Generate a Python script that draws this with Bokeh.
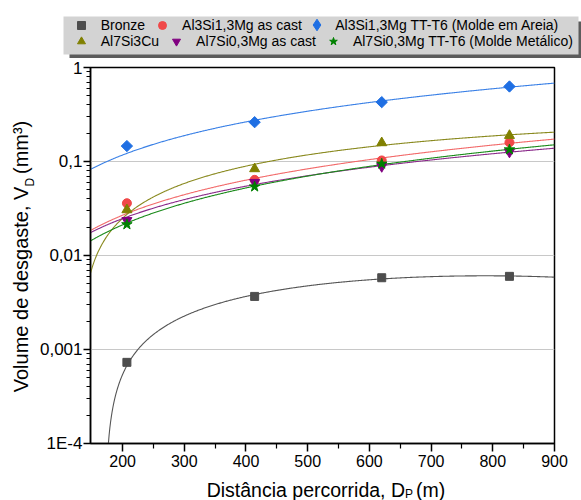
import numpy as np
from bokeh.plotting import figure
from bokeh.layouts import column, row
from bokeh.models import FixedTicker, Legend, LegendItem, Label, BoxAnnotation, Range1d
from bokeh.embed import file_html
from bokeh.resources import INLINE

# ---------------- data ----------------
distance = [207, 414, 620, 827]
series_names = [
    "Bronze",
    "Al3Si1,3Mg as cast",
    "Al3Si1,3Mg TT-T6 (Molde em Areia)",
    "Al7Si3Cu",
    "Al7Si0,3Mg as cast",
    "Al7Si0,3Mg TT-T6 (Molde Metálico)",
]
bronze = [0.00073, 0.00367, 0.0058, 0.0060]
al3si_cast = [0.036, 0.0638, 0.1026, 0.160]
al3si_t6 = [0.146, 0.262, 0.428, 0.628]
al7si3cu = [0.0306, 0.0836, 0.158, 0.189]
al7si_cast = [0.0236, 0.060, 0.0885, 0.126]
al7si_t6 = [0.0214, 0.054, 0.0945, 0.134]
series_values = [bronze, al3si_cast, al3si_t6, al7si3cu, al7si_cast, al7si_t6]
fit_models = ["poly2", "power", "power", "poly2", "power", "power"]

x_ticks = [200, 300, 400, 500, 600, 700, 800, 900]
x_minor = [250, 350, 450, 550, 650, 750, 850]
y_ticks = [1e-4, 1e-3, 1e-2, 1e-1, 1]
y_tick_labels = ["1E-4", "0,001", "0,01", "0,1", "1"]
x_title = ["Distância percorrida, D", "P", "(m)"]
y_title = ["Volume de desgaste, V", "D", "(mm³)"]

# ---------------- styles ----------------
marker_colors = ["#4d4d4d", "#f04848", "#1f6fe3", "#808000", "#800080", "#008000"]
line_colors = ["#555555", "#f26a6a", "#3a80e6", "#8a8a20", "#8a2a8a", "#1a8a1a"]
markers = ["square", "circle", "square", "triangle", "inverted_triangle", "star"]
legend_markers = ["square", "circle", "diamond", "triangle", "inverted_triangle", "star"]
angles = [0, 0, np.pi / 4, 0, 0, 0]
sizes = [8, 9, 8, 10, 10, 11]
FONT = "Liberation Sans"
W, H = 581, 500
TOP_H, XT_H, YT_W = 58, 22, 36
MAIN_H = H - TOP_H - XT_H


def fit_curve(x, y, model, xs):
    x = np.asarray(x, float)
    y = np.asarray(y, float)
    if model == "poly2":
        return np.polyval(np.polyfit(x, y, 2), xs)
    best = None
    for b in np.linspace(0.3, 3.0, 2701):
        xb = x ** b
        a = (y * xb).sum() / (xb * xb).sum()
        sse = ((y - a * xb) ** 2).sum()
        if best is None or sse < best[0]:
            best = (sse, a, b)
    return best[1] * xs ** best[2]


def blank(width, height, yr):
    f = figure(width=width, height=height, x_range=Range1d(0, width), y_range=yr,
               x_axis_location=None, y_axis_location=None,
               output_backend="svg", toolbar_location=None,
               min_border=0, min_border_left=0, min_border_right=0,
               min_border_top=0, min_border_bottom=0)
    f.outline_line_color = None
    f.background_fill_color = "white"
    f.border_fill_color = "white"
    f.grid.visible = False
    return f


def text(fig, x, y, s, size, align="left", angle=0.0):
    fig.add_layout(Label(x=x, y=y, text=s, text_align=align, text_baseline="middle",
                         angle=angle, text_font=FONT, text_font_size=size,
                         text_color="black"))


# ---------------- main chart ----------------
p = figure(
    width=W - YT_W, height=MAIN_H,
    x_range=Range1d(148, 900), y_range=Range1d(1e-4, 1),
    y_axis_type="log",
    output_backend="svg", toolbar_location=None,
    min_border_left=90 - YT_W, min_border_right=27, min_border_top=67 - TOP_H,
    min_border_bottom=MAIN_H - (443 - TOP_H),
)
p.background_fill_color = "white"
p.border_fill_color = "white"
p.outline_line_color = "black"
p.outline_line_width = 1.5
p.xgrid.visible = False
p.ygrid.grid_line_color = "#c8c8c8"
p.ygrid.grid_line_width = 1

p.xaxis.ticker = FixedTicker(ticks=x_ticks, minor_ticks=x_minor)
minor_y = [d * k for d in y_ticks[:-1] for k in range(2, 10)]
p.yaxis.ticker = FixedTicker(ticks=y_ticks, minor_ticks=minor_y)
p.yaxis.major_label_overrides = {t: l for t, l in zip(y_ticks, y_tick_labels)}

for ax in (p.xaxis[0], p.yaxis[0]):
    ax.axis_line_color = "black"
    ax.axis_line_width = 1.5
    ax.major_tick_line_color = "black"
    ax.minor_tick_line_color = "black"
    ax.major_tick_line_width = 1.5
    ax.minor_tick_line_width = 1.2
    ax.major_tick_in = 0
    ax.minor_tick_in = 0
    ax.major_label_text_font = FONT
    ax.major_label_text_color = "black"
p.xaxis.major_tick_out = 8
p.xaxis.minor_tick_out = 5
p.yaxis.major_tick_out = 7
p.yaxis.minor_tick_out = 4
p.xaxis.major_label_text_font_size = "16px"
p.yaxis.major_label_text_font_size = "17px"
p.xaxis.major_label_standoff = 3
p.yaxis.major_label_standoff = 1

xs = np.linspace(148, 900, 600)
for vals, model, lc in zip(series_values, fit_models, line_colors):
    ys = fit_curve(distance, vals, model, xs)
    keep = ys > 1e-6
    p.line(xs[keep], ys[keep], line_color=lc, line_width=1.1)

for vals, mk, mc, ang, sz in zip(series_values, markers, marker_colors, angles, sizes):
    p.scatter(distance, vals, marker=mk, size=sz, angle=ang, fill_color=mc, line_color=mc)

# ---------------- legend strip (canvas-pixel coordinates) ----------------
top = blank(W, TOP_H, Range1d(TOP_H, 0))
top.add_layout(BoxAnnotation(left=69, right=W, top=21, bottom=TOP_H,
                             fill_color="#5c5c5c", fill_alpha=1, line_alpha=0))
top.add_layout(BoxAnnotation(left=63, right=578, top=16, bottom=54,
                             fill_color="#d3d3d3", fill_alpha=1, line_alpha=0))
leg_renderers = []
for mk, mc in zip(legend_markers, marker_colors):
    leg_renderers.append(top.scatter([np.nan], [np.nan], marker=mk, size=8,
                                     fill_color=mc, line_color=mc))

legend_style = dict(orientation="horizontal", background_fill_alpha=0, border_line_alpha=0,
                    padding=0, margin=0, spacing=7, label_height=14,
                    label_text_font=FONT, label_text_font_size="14px",
                    label_text_color="black")


def add_legend(indices, glyph_left, center_y, glyph_box, standoff):
    items = [LegendItem(label=series_names[i], renderers=[leg_renderers[i]]) for i in indices]
    leg = Legend(items=items, location=(glyph_left, TOP_H - (center_y + glyph_box / 2)),
                 glyph_width=glyph_box, glyph_height=glyph_box, label_standoff=standoff,
                 **legend_style)
    top.add_layout(leg, "center")


add_legend([0, 1], 70.7, 24.7, 20, 10)
add_legend([2], 302.2, 24.7, 29, 4)
add_legend([3, 4, 5], 70.7, 41.3, 20, 10)

# ---------------- y title strip (rotated, reads bottom to top) ----------------
yt = blank(YT_W, MAIN_H, Range1d(TOP_H + MAIN_H, TOP_H))
text(yt, 20.5, 191, y_title[0], "20px", align="right", angle=np.pi / 2)
text(yt, 29.0, 191, y_title[1], "12px", align="left", angle=np.pi / 2)
text(yt, 20.5, 177, y_title[2], "20px", align="left", angle=np.pi / 2)

# ---------------- x title strip ----------------
xt = blank(W, XT_H, Range1d(H, H - XT_H))
text(xt, 404.5, 489.5, x_title[0], "19.5px", align="right")
text(xt, 404.5, 493.5, x_title[1], "12px", align="left")
text(xt, 415.5, 489.5, x_title[2], "19.5px", align="left")

layout = column(top, row(yt, p, spacing=0), xt, spacing=0)
open("out.html", "w").write(file_html(layout, INLINE))
